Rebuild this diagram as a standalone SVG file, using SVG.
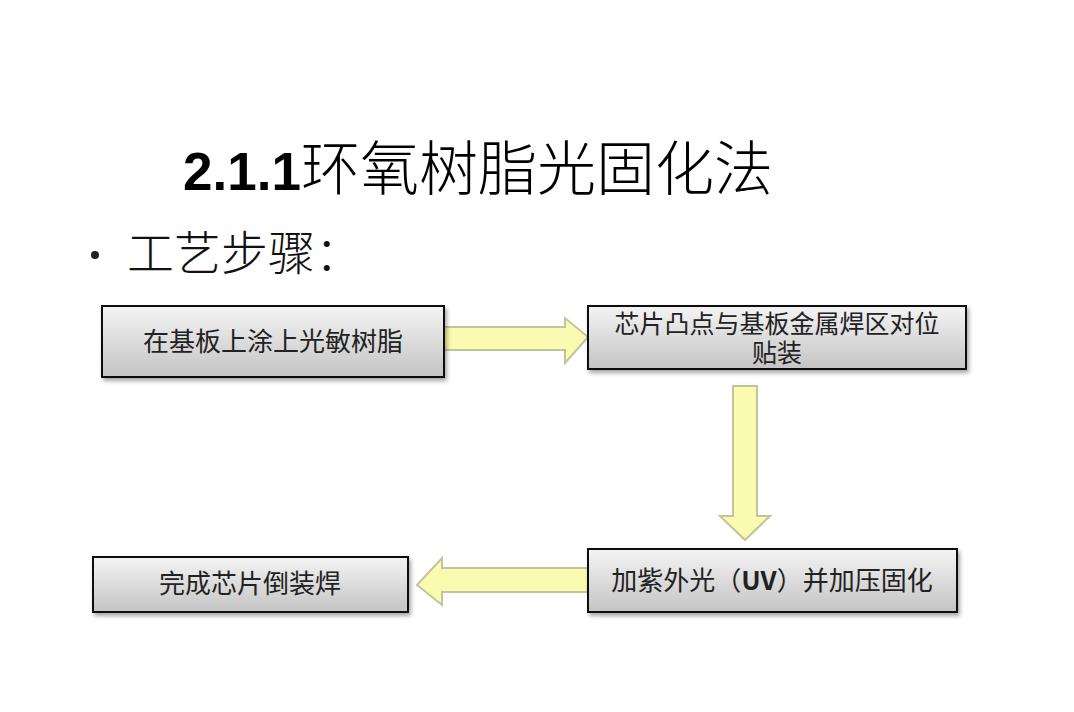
<svg xmlns="http://www.w3.org/2000/svg" width="1074" height="712" viewBox="0 0 1074 712">
<defs>
<linearGradient id="g" x1="0" y1="0" x2="0" y2="1">
<stop offset="0" stop-color="#f4f4f4"/>
<stop offset="1" stop-color="#c4c4c4"/>
</linearGradient>
<filter id="sh" x="-5%" y="-20%" width="110%" height="150%">
<feDropShadow dx="2" dy="3" stdDeviation="2" flood-color="#000" flood-opacity="0.35"/>
</filter>
<style>
.box{fill:url(#g);stroke:#111;stroke-width:2;filter:url(#sh)}
.t{font-family:"Noto Sans CJK SC","Noto Sans",sans-serif;font-size:26px;fill:#222;text-anchor:middle}
.t2{font-size:25px}
.arr{fill:#fafab0;stroke:#c4c49c;stroke-width:2;stroke-linejoin:miter}
</style>
</defs>
<rect width="1074" height="712" fill="#fff"/>
<g id="title">
<text x="183" y="190" font-family="'Liberation Sans','Noto Sans CJK SC',sans-serif" font-size="58" fill="#000"><tspan font-weight="bold" font-size="53">2.1.1</tspan><tspan font-family="'Noto Sans CJK SC',sans-serif" font-size="59" font-weight="300">环氧树脂光固化法</tspan></text>
</g>
<g id="subtitle">
<circle cx="95" cy="255" r="4" fill="#222"/>
<text x="127" y="270" font-family="'Noto Sans CJK SC',sans-serif" font-size="47" font-weight="300" fill="#111">工艺步骤：</text>
</g>
<g id="connectors">
<polygon class="arr" points="444,327 565,327 565,318 588,337 565,363 565,350 444,350"/>
<polygon class="arr" points="733,386 757,386 757,516 770,516 745,540 720,516 733,516"/>
<polygon class="arr" points="588,568 442,568 442,558 417,585 442,605 442,592 588,592"/>
</g>
<g id="node1">
<rect class="box" x="102" y="306" width="342" height="71"/>
<text class="t" x="273" y="351">在基板上涂上光敏树脂</text>
</g>
<g id="node2">
<rect class="box" x="588" y="306" width="378" height="63"/>
<text class="t t2" x="777" y="333"><tspan x="777" y="333">芯片凸点与基板金属焊区对位</tspan><tspan x="777" y="362">贴装</tspan></text>
</g>
<g id="node3">
<rect class="box" x="588" y="549" width="369" height="63"/>
<text class="t" x="772" y="590">加紫外光（<tspan font-weight="bold">UV</tspan>）并加压固化</text>
</g>
<g id="node4">
<rect class="box" x="93" y="557" width="315" height="55"/>
<text class="t" x="250" y="593">完成芯片倒装焊</text>
</g>
</svg>
